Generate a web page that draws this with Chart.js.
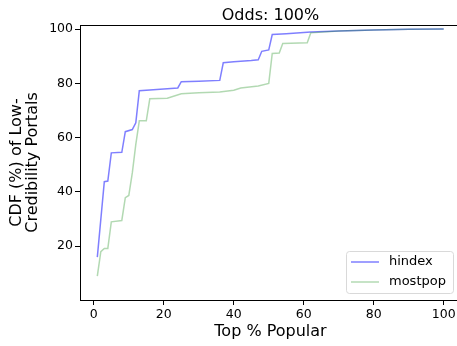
<!DOCTYPE html>
<html>
<head>
<meta charset="utf-8">
<script src="https://cdn.jsdelivr.net/npm/chart.js@4"></script>
<style>
  body { margin: 0; overflow: hidden; background: #fff; }
</style>
</head>
<body>
<canvas id="myChart" width="461" height="346"></canvas>
<script>
const hindexX = [1, 3, 4, 5, 8, 9, 11, 12, 13, 16, 20, 24, 25, 30, 36, 37, 40, 45, 47, 48, 50, 51, 55, 62, 70, 80, 90, 100];
const hindexY = [16, 43.8, 44, 54.4, 54.6, 62.2, 63, 65.5, 77.3, 77.6, 77.9, 78.3, 80.6, 80.8, 81.1, 87.6, 88, 88.4, 88.7, 91.8, 92.3, 98, 98.3, 98.9, 99.3, 99.7, 99.9, 100];
const mostpopX = [1, 2, 3, 4, 5, 8, 9, 10, 11, 12, 13, 15, 16, 21, 25, 30, 36, 40, 42, 47, 50, 51, 53, 54, 61, 62, 70, 80, 90, 100];
const mostpopY = [9, 18, 19.2, 19.2, 29, 29.5, 37.9, 38.7, 47, 57.5, 66.2, 66.2, 74.3, 74.5, 76.2, 76.5, 76.8, 77.5, 78.3, 79, 80, 91, 91.2, 94.7, 95, 98.6, 99.3, 99.7, 99.9, 100];
const xTicks = [0, 20, 40, 60, 80, 100];
const yTicks = [20, 40, 60, 80, 100];

const toPoints = (xs, ys) => xs.map((x, i) => ({ x: x, y: ys[i] }));

// title over the axes + top spine + legend box inside the plot
const extras = {
  id: "extras",
  afterDraw(chart) {
    const { ctx, chartArea } = chart;
    ctx.save();
    ctx.strokeStyle = "#000";
    ctx.lineWidth = 1;
    ctx.beginPath();
    ctx.moveTo(chartArea.left, chartArea.top + 0.5);
    ctx.lineTo(chartArea.right, chartArea.top + 0.5);
    ctx.stroke();

    ctx.fillStyle = "#000";
    ctx.font = "16px 'DejaVu Sans'";
    ctx.textAlign = "center";
    ctx.textBaseline = "alphabetic";
    ctx.fillText("Odds: 100%", (chartArea.left + chartArea.right) / 2, 20);

    // legend
    const bx = 346, by = 251, bw = 107, bh = 42, r = 3;
    ctx.beginPath();
    ctx.roundRect(bx + 0.5, by + 0.5, bw, bh, r);
    ctx.fillStyle = "rgba(255,255,255,0.8)";
    ctx.fill();
    ctx.strokeStyle = "#d9d9d9";
    ctx.stroke();
    ctx.font = "13px 'DejaVu Sans'";
    ctx.textAlign = "left";
    ctx.textBaseline = "middle";
    chart.data.datasets.forEach((ds, i) => {
      const y = by + 11 + i * 20;
      ctx.strokeStyle = ds.borderColor;
      ctx.lineWidth = 1.5;
      ctx.beginPath();
      ctx.moveTo(bx + 5, y);
      ctx.lineTo(bx + 33, y);
      ctx.stroke();
      ctx.fillStyle = "#000";
      ctx.fillText(ds.label, bx + 43, y);
    });
    ctx.restore();
  },
};

const data = {
  datasets: [
    {
      label: "hindex",
      data: toPoints(hindexX, hindexY),
      borderColor: "rgba(0,0,255,0.5)",
      borderWidth: 1.5,
      pointRadius: 0,
      order: 1,
    },
    {
      label: "mostpop",
      data: toPoints(mostpopX, mostpopY),
      borderColor: "rgba(0,128,0,0.3)",
      borderWidth: 1.5,
      pointRadius: 0,
      order: 0,
    },
  ],
};

const config = {
  type: "line",
  data: data,
  plugins: [extras],
  options: {
    responsive: false,
    animation: false,
    devicePixelRatio: 1,
    layout: { padding: { top: 25, left: 0, right: 0, bottom: 0 } },
    plugins: {
      legend: { display: false },
      title: { display: false },
      tooltip: { enabled: false },
    },
    scales: {
      x: {
        type: "linear",
        min: -3.95,
        max: 104.95,
        afterBuildTicks: (scale) => { scale.ticks = xTicks.map((v) => ({ value: v })); },
        afterFit: (scale) => { scale.height = 46; },
        grid: { drawOnChartArea: false, drawTicks: true, tickLength: 5, color: "#000" },
        border: { display: true, color: "#000", width: 1 },
        ticks: { color: "#000", padding: 2, maxRotation: 0, font: { family: "DejaVu Sans", size: 12.5 } },
        title: {
          display: true,
          text: "Top % Popular",
          color: "#000",
          padding: { top: 0, bottom: 5 },
          font: { family: "DejaVu Sans", size: 16 },
        },
      },
      y: {
        type: "linear",
        min: 0.2,
        max: 101.5,
        afterBuildTicks: (scale) => { scale.ticks = yTicks.map((v) => ({ value: v })); },
        afterFit: (scale) => { scale.width = 80; },
        grid: { drawOnChartArea: false, drawTicks: true, tickLength: 5, color: "#000" },
        border: { display: true, color: "#000", width: 1 },
        ticks: { color: "#000", padding: 2, font: { family: "DejaVu Sans", size: 12.5 } },
        title: {
          display: true,
          text: ["CDF (%) of Low-", "Credibility Portals"],
          color: "#000",
          padding: { top: 9, bottom: 0 },
          font: { family: "DejaVu Sans", size: 16, lineHeight: 1.0 },
        },
      },
    },
  },
};

const ctx = document.getElementById("myChart").getContext("2d");
new Chart(ctx, config);
</script>
</body>
</html>
